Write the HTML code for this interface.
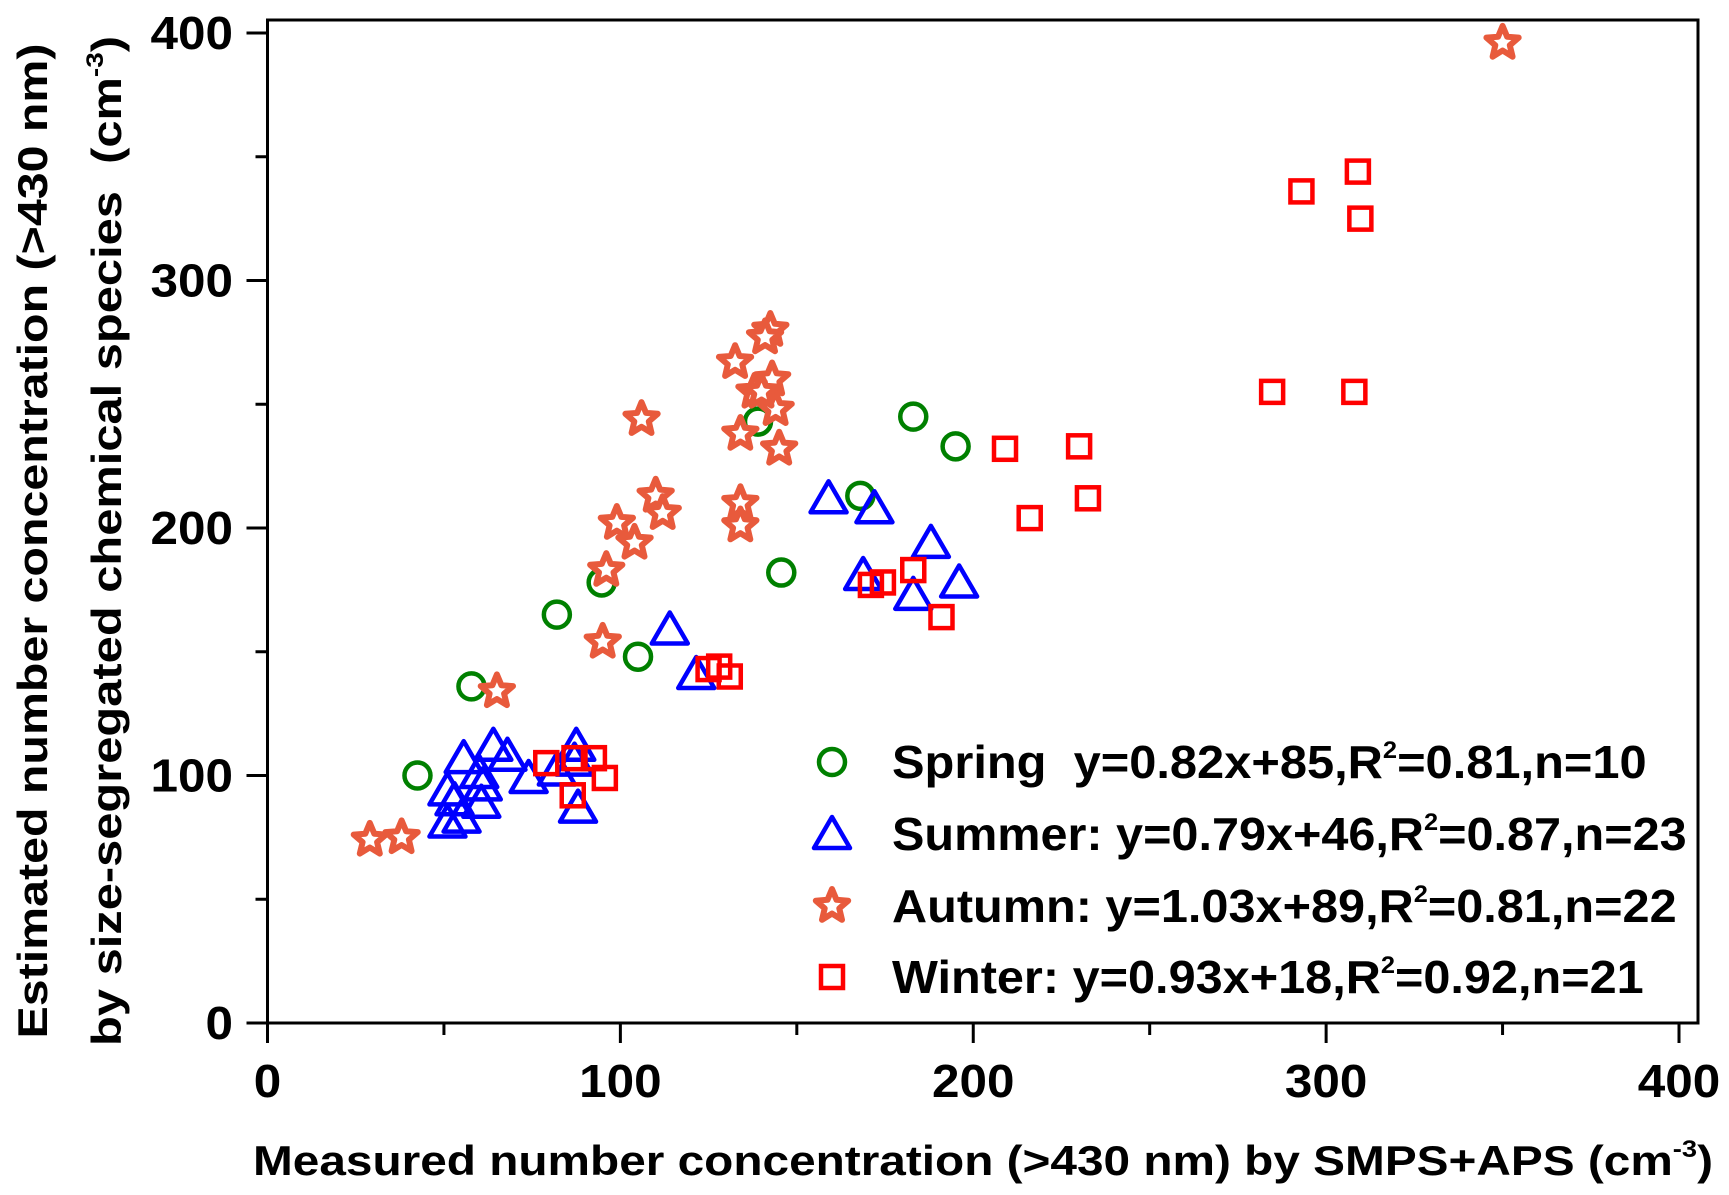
<!DOCTYPE html>
<html><head><meta charset="utf-8"><style>
html,body{margin:0;padding:0;background:#fff}
svg{display:block;font-family:"Liberation Sans",Arial,sans-serif;font-weight:bold}
</style></head><body>
<svg id="chart" width="1729" height="1195" viewBox="0 0 1729 1195" xmlns="http://www.w3.org/2000/svg">
<g id="axes"></g>
<g id="marks"></g>
<g id="legend"></g>
<text x="983" y="1175" text-anchor="middle" font-size="42" textLength="1460" lengthAdjust="spacingAndGlyphs">Measured number concentration (&gt;430 nm) by SMPS+APS (cm<tspan dy="-18" font-size="24">-3</tspan><tspan dy="18">)</tspan></text>
<text transform="translate(47,541) rotate(-90)" text-anchor="middle" font-size="42" textLength="995" lengthAdjust="spacingAndGlyphs">Estimated number concentration (&gt;430 nm)</text>
<text transform="translate(121,541) rotate(-90)" text-anchor="middle" font-size="42" textLength="1010" lengthAdjust="spacingAndGlyphs">by size-segregated chemical species&#160;&#160;(cm<tspan dy="-18" font-size="24">-3</tspan><tspan dy="18">)</tspan></text>
</svg>
<script>
const xTicks=[0,100,200,300,400];
const yTicks=[0,100,200,300,400];
const springX=[57.8,42.5,82,94.7,105,139,145.6,168,183,195];
const springY=[136,100,165,178,148,243,182,213,245,233];
const summerX=[51,51,55,55.6,60,60.6,61,64,68,74,82,87.5,88,87,114,121.5,159,172,168.8,183,188,196,53];
const summerY=[94,81,83,107,101,89,96,112,108,99,102,112,87,106,159,141,212,208,181,173,194,178,90];
const autumnX=[29,38,65,95,96,104,99,106,110,112,132.5,134,134,134,138,142.5,141,143,144,145,350,140];
const autumnY=[74,75,134,154,183,194,202,244,213,206,267,238,210,201,255,280,277,260,248,232,396,255];
const winterX=[79,87,92.5,86.5,95.6,125,128,131,171,174.4,183,191,209,216,230,232.5,284.7,308,293,309,309.7];
const winterY=[105,107,107,92,99,143,144,140,177,178,183,164,232,204,233,212,255,255,336,344,325];
const legendLabels=["Spring\u00a0\u00a0y=0.82x+85,R","Summer: y=0.79x+46,R","Autumn: y=1.03x+89,R","Winter: y=0.93x+18,R"];
const legendTails=["=0.81,n=10","=0.87,n=23","=0.81,n=22","=0.92,n=21"];

const NS="http://www.w3.org/2000/svg";
const X0=267.5,X1=1679,Y0=1023,Y1=33;
const sx=v=>X0+(X1-X0)*v/400;
const sy=v=>Y0-(Y0-Y1)*v/400;
function mk(tag,attrs,parent){const e=document.createElementNS(NS,tag);for(const k in attrs)e.setAttribute(k,attrs[k]);parent.appendChild(e);return e;}
const axes=document.getElementById('axes');
let box=mk('rect',{x:X0,y:20,width:1698-X0,height:Y0-20,fill:'none',stroke:'#000','stroke-width':3},axes);


for(let v=0;v<=400;v+=50){
  const major=v%100===0;
  let t=mk('line',{x1:sx(v),x2:sx(v),y1:Y0,y2:Y0+(major?20:12),stroke:'#000','stroke-width':3},axes);
  
  
  let u=mk('line',{x1:X0,x2:X0-(major?21:12),y1:sy(v),y2:sy(v),stroke:'#000','stroke-width':3},axes);
  
  
}
function tw(v){return String(v).length*27.5;}
xTicks.forEach(v=>{let t=mk('text',{x:sx(v),y:1097,'text-anchor':'middle','font-size':46,textLength:tw(v),lengthAdjust:'spacingAndGlyphs'},axes);t.textContent=v;
  
  });
yTicks.forEach(v=>{let t=mk('text',{x:233,y:sy(v)+16,'text-anchor':'end','font-size':46,textLength:tw(v),lengthAdjust:'spacingAndGlyphs'},axes);t.textContent=v;
  
  });

const marks=document.getElementById('marks');
function starPath(cx,cy,R){const r=R*0.45;let d='';for(let i=0;i<10;i++){const a=-Math.PI/2+i*Math.PI/5;const rr=i%2?r:R;d+=(i?'L':'M')+(cx+rr*Math.cos(a)).toFixed(1)+','+(cy+rr*Math.sin(a)).toFixed(1);}return d+'Z';}
function marker(kind,cx,cy,parent){
  let e;
  if(kind==='circle') e=mk('circle',{cx:cx,cy:cy,r:13,fill:'none',stroke:'#008000','stroke-width':4.5},parent);
  else if(kind==='tri') e=mk('path',{d:`M${cx},${cy-17}L${cx+18},${cy+14}L${cx-18},${cy+14}Z`,fill:'none',stroke:'#0000ff','stroke-width':4.5,'stroke-linejoin':'round'},parent);
  else if(kind==='star') e=mk('path',{d:starPath(cx,cy,17),fill:'#fff',stroke:'#e85a3c','stroke-width':6,'stroke-linejoin':'round'},parent);
  else e=mk('rect',{x:cx-11,y:cy-11,width:22,height:22,fill:'none',stroke:'#ff0000','stroke-width':4.5},parent);
  return e;
}
const series=[['circle',springX,springY,'spring-point'],['tri',summerX,summerY,'summer-point'],['star',autumnX,autumnY,'autumn-point'],['square',winterX,winterY,'winter-point']];
series.forEach(([k,xs,ys,nm])=>{xs.forEach((x,i)=>{const e=marker(k,sx(x),sy(ys[i]),marks);
  
  });});

const legend=document.getElementById('legend');
const ly=[762,834,906,977];
const lw=[755,795,785,752];
series.forEach(([k],i)=>{
  const m=marker(k,832,ly[i],legend);
  
  
  const t=mk('text',{x:892,y:ly[i]+16,'font-size':46},legend);
  
  
  t.innerHTML=legendLabels[i]+'<tspan dy="-20" font-size="24">2</tspan><tspan dy="20">'+legendTails[i]+'</tspan>';
  const w=t.getComputedTextLength();
  if(w>0) t.setAttribute('transform',`translate(892,0) scale(${lw[i]/w},1) translate(-892,0)`);
});
</script>
</body></html>
